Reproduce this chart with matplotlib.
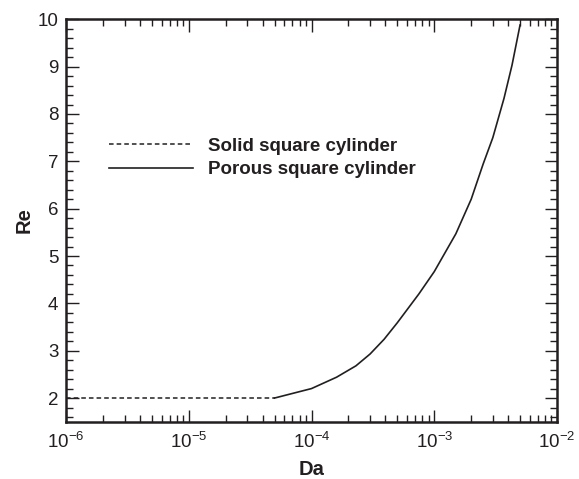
import matplotlib
matplotlib.use("Agg")
import matplotlib.pyplot as plt
from matplotlib.ticker import LogLocator, MultipleLocator, NullFormatter

plt.rcParams['font.family'] = ['Liberation Sans', 'DejaVu Sans']
plt.rcParams['mathtext.fontset'] = 'custom'
plt.rcParams['mathtext.rm'] = 'Liberation Sans'
plt.rcParams['mathtext.it'] = 'Liberation Sans:italic'
plt.rcParams['mathtext.bf'] = 'Liberation Sans:bold'
plt.rcParams['axes.unicode_minus'] = False

# Solid cylinder branch (constant critical Re)
da_solid = [1e-6, 5e-5]
re_solid = [2.0, 2.0]

# Porous cylinder branch
da_porous = [5e-5, 1e-4, 1.6e-4, 2.3e-4, 3e-4, 3.9e-4, 5e-4, 7.5e-4, 1e-3,
             1.5e-3, 2e-3, 2.5e-3, 3e-3, 3.7e-3, 4.3e-3, 5e-3]
re_porous = [2.0, 2.2, 2.44, 2.68, 2.93, 3.24, 3.59, 4.2, 4.67,
             5.47, 6.2, 6.94, 7.5, 8.33, 9.03, 9.88]

labels = ["Solid square cylinder", "Porous square cylinder"]
ink = "#231f20"

fig = plt.figure(figsize=(5.79, 4.79), dpi=100)
ax = fig.add_axes([0.114, 0.1196, 0.848, 0.8401])

ax.plot(da_solid, re_solid, color=ink, lw=1.1, ls=(0, (3, 2)), label=labels[0])
ax.plot(da_porous, re_porous, color=ink, lw=1.2, ls='-', label=labels[1])

ax.set_xscale('log')
ax.set_xlim(1e-6, 1e-2)
ax.set_ylim(1.5, 10)

ax.xaxis.set_major_locator(LogLocator(base=10, numticks=10))
ax.xaxis.set_minor_locator(LogLocator(base=10, subs=range(2, 10), numticks=50))
ax.xaxis.set_minor_formatter(NullFormatter())
ax.yaxis.set_major_locator(MultipleLocator(1))
ax.yaxis.set_minor_locator(MultipleLocator(0.2))

ax.tick_params(which='both', direction='in', top=True, right=True,
               colors=ink, labelsize=13.5, width=1.0)
ax.tick_params(which='major', length=9)
ax.tick_params(which='minor', length=5)
ax.tick_params(axis='x', which='major', pad=7)
ax.tick_params(axis='y', which='major', pad=5.5)
for sp in ax.spines.values():
    sp.set_linewidth(1.8)
    sp.set_color(ink)

ax.set_xlabel("Da", fontsize=14.5, fontweight='bold', color=ink, labelpad=6)
ax.set_ylabel("Re", fontsize=14.5, fontweight='bold', color=ink, labelpad=3)

leg = ax.legend(loc='center left', bbox_to_anchor=(0.0876, 0.6555), frameon=False,
                borderpad=0, borderaxespad=0,
                handlelength=4.48, handletextpad=0.8, labelspacing=0.33,
                prop={'weight': 'bold', 'size': 13.5})
for t in leg.get_texts():
    t.set_color(ink)

fig.savefig("out.png", dpi=100)
